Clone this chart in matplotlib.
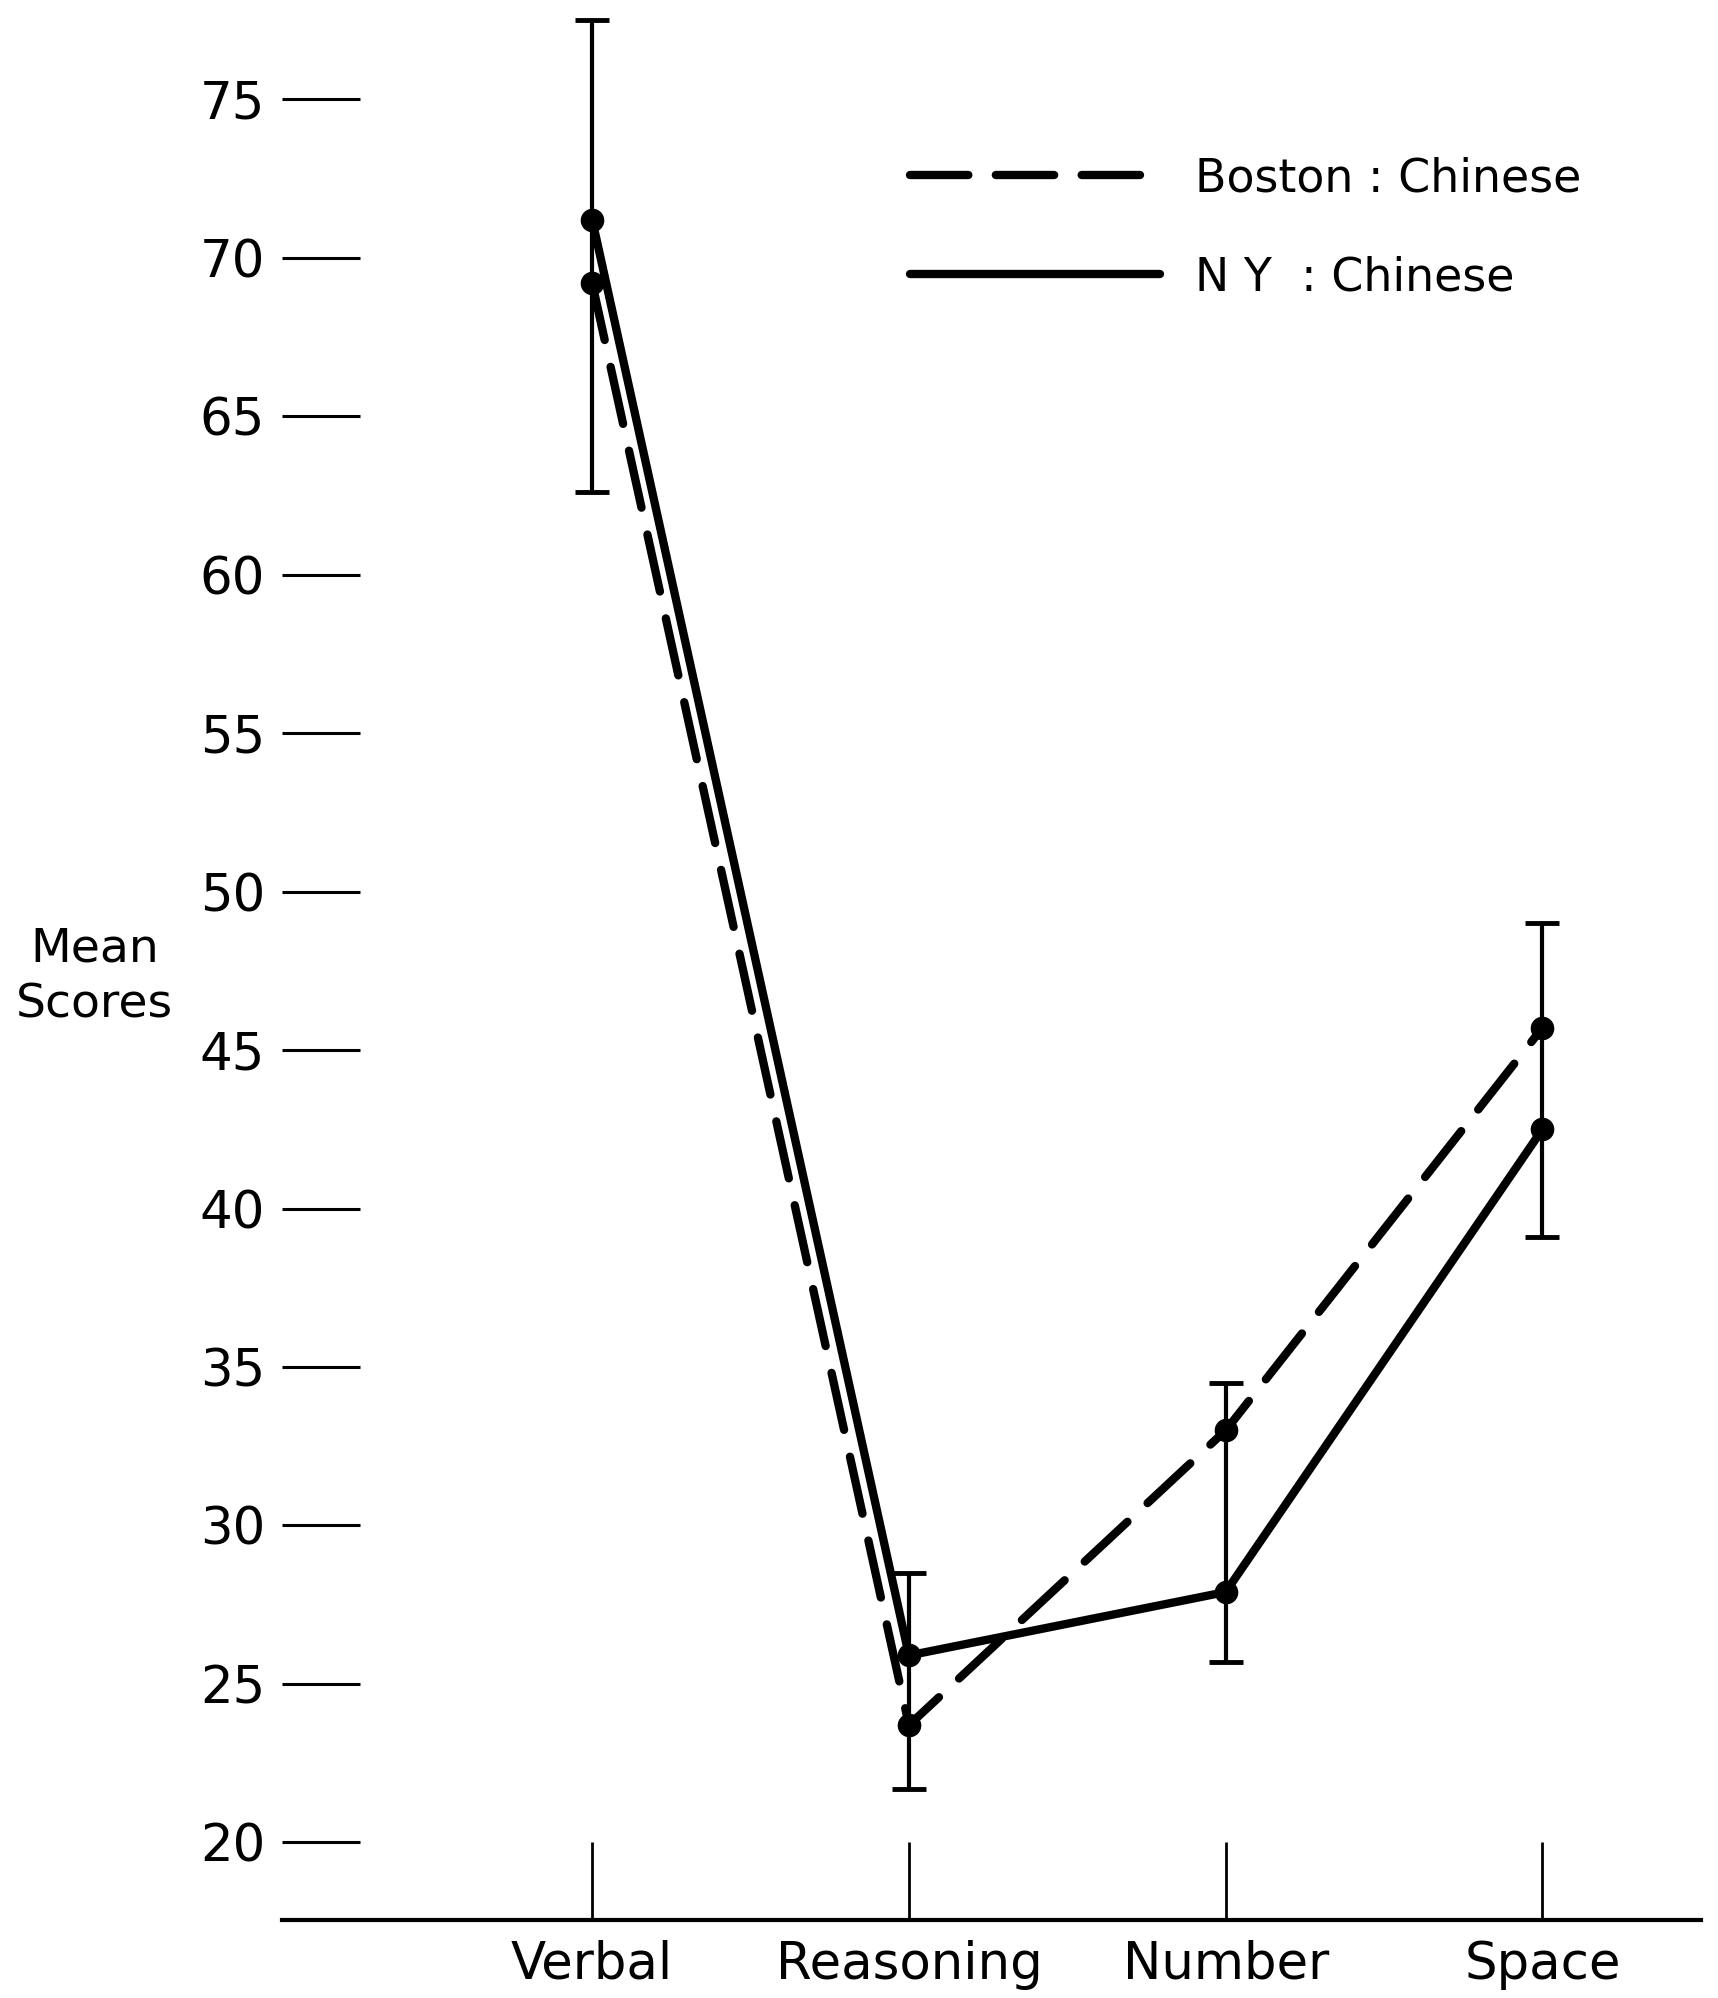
import matplotlib.pyplot as plt

# data
categories = ['Verbal', 'Reasoning', 'Number', 'Space']
boston = [69.2, 23.7, 33.0, 45.7]
ny = [71.2, 25.9, 27.9, 42.5]
err_hi = [77.5, 28.5, 34.5, 49.0]
err_lo = [62.6, 21.7, 25.7, 39.1]
yticks = [20, 25, 30, 35, 40, 45, 50, 55, 60, 65, 70, 75]

plt.rcParams['font.family'] = ['DejaVu Sans']

fig = plt.figure(figsize=(17.18, 19.98), dpi=100)
ax = fig.add_axes([0.164, 0.039, 0.826, 0.961])

x = list(range(len(categories)))

# error bars as a range per category
mid = [(h + l) / 2 for h, l in zip(err_hi, err_lo)]
half = [(h - l) / 2 for h, l in zip(err_hi, err_lo)]
ax.errorbar(x, mid, yerr=half, fmt='none', ecolor='black', elinewidth=3,
            capsize=12, capthick=3.5, zorder=2)

ax.plot(x, boston, color='black', lw=6, linestyle=(0, (7, 3.3)),
        dash_capstyle='round', marker='o', markersize=16,
        label='Boston : Chinese', zorder=3)
ax.plot(x, ny, color='black', lw=6, solid_capstyle='round',
        marker='o', markersize=16, label='N Y  : Chinese', zorder=3)

ax.set_xlim(-0.98, 3.50)
ax.set_ylim(17.55, 78.13)

ax.set_xticks(x)
ax.set_xticklabels(categories, fontsize=37)
ax.set_yticks(yticks)
ax.set_yticklabels([str(v) for v in yticks], fontsize=37)
ax.tick_params(axis='y', direction='in', length=56, width=2.2, pad=12)
ax.tick_params(axis='x', direction='in', length=56, width=2.0, pad=14)

for s in ['left', 'top', 'right']:
    ax.spines[s].set_visible(False)
ax.spines['bottom'].set_linewidth(3)

fig.text(0.055, 0.511, 'Mean\nScores', fontsize=34, ha='center', va='center',
         linespacing=1.3)

leg = ax.legend(loc='upper left', bbox_to_anchor=(0.414, 0.94), frameon=False,
                fontsize=33, handlelength=5.45, handletextpad=0.75,
                labelspacing=1.18)
for line in leg.get_lines():
    line.set_marker('')

plt.savefig('out.png', dpi=100)
